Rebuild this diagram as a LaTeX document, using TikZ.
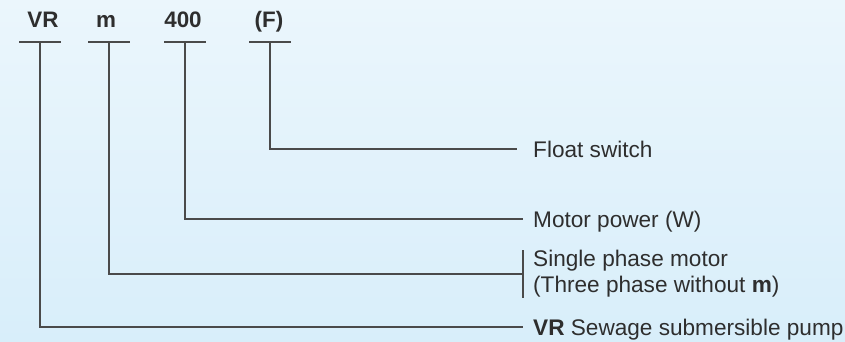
\documentclass[tikz,border=0pt]{standalone}
\usepackage{fontspec}
\setmainfont{Liberation Sans}
\definecolor{bgtop}{HTML}{EBF6FC}
\definecolor{bgbottom}{HTML}{D8EEFA}
\definecolor{linegray}{HTML}{4A4A4A}
\definecolor{textgray}{HTML}{2E2E2E}

\begin{document}
\begin{tikzpicture}[x=1pt, y=-1pt,
    code/.style={font=\fontsize{22.4}{26}\selectfont\bfseries, text=textgray, anchor=base, inner sep=0},
    desc/.style={font=\fontsize{22.6}{26}\selectfont, text=textgray, anchor=west, inner sep=0, text height=16.2pt, text depth=0pt},
    desclines/.style={font=\fontsize{22.6}{26}\selectfont, text=textgray, anchor=west, inner sep=0, align=left},
    link/.style={draw=linegray, line width=1.3pt}]
    % background
    \fill[top color=bgtop, bottom color=bgbottom] (0,0) rectangle (845,342);
    \useasboundingbox (0,0) rectangle (845,342);

    % type code
    \node[code] (vr) at (43,28) {VR};
    \node[code] (m) at (106,28) {m};
    \node[code] (pw) at (183,28) {400};
    \node[code] (f) at (269,28) {(F)};
    \coordinate (vrTop) at (40,42);
    \coordinate (mTop) at (109,42);
    \coordinate (pwTop) at (185,42);
    \coordinate (fTop) at (270,42);
    \draw[link] ([xshift=-21pt]vrTop) -- ([xshift=21pt]vrTop);
    \draw[link] ([xshift=-21pt]mTop) -- ([xshift=21pt]mTop);
    \draw[link] ([xshift=-21pt]pwTop) -- ([xshift=21pt]pwTop);
    \draw[link] ([xshift=-21pt]fTop) -- ([xshift=21pt]fTop);

    % meanings
    \node[desc] (float) at (533,149) {Float switch};
    \node[desc] (power) at (533,219) {Motor power (W)};
    \node[desclines] (single) at (533,274) {Single phase motor\\(Three phase without \textbf{m})};
    \node[desc] (pump) at (533,327) {\textbf{VR} Sewage submersible pump};

    % leaders
    \draw[link] (fTop) |- ([xshift=-16pt]float.west);
    \draw[link] (pwTop) |- ([xshift=-10pt]power.west);
    \draw[link] (mTop) |- ([xshift=-10pt]single.west);
    \draw[link] ([xshift=-10pt]single.north west) -- ([xshift=-10pt]single.south west);
    \draw[link] (vrTop) |- ([xshift=-10pt]pump.west);
\end{tikzpicture}
\end{document}
